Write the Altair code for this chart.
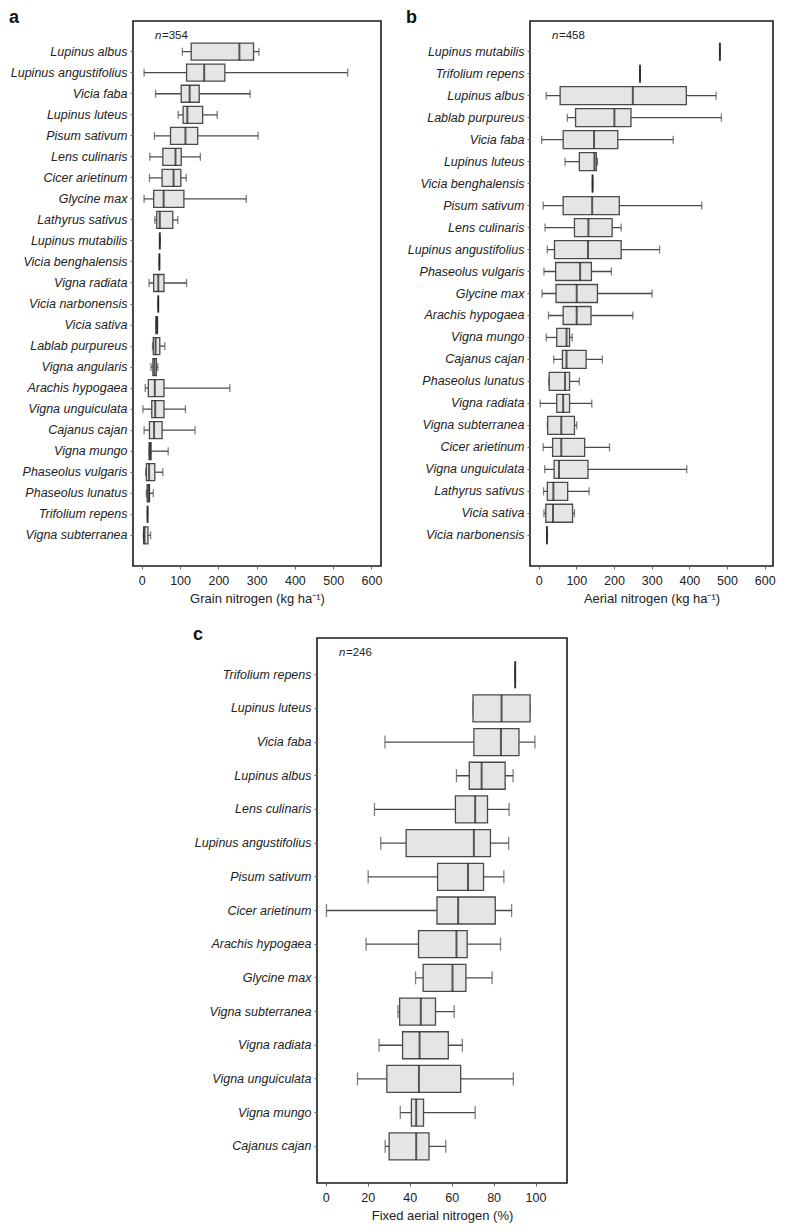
import altair as alt
import pandas as pd

FONT = "Liberation Sans"

# ---------------- Panel a: Grain nitrogen ----------------
a_species = ["Lupinus albus", "Lupinus angustifolius", "Vicia faba", "Lupinus luteus",
             "Pisum sativum", "Lens culinaris", "Cicer arietinum", "Glycine max",
             "Lathyrus sativus", "Lupinus mutabilis", "Vicia benghalensis", "Vigna radiata",
             "Vicia narbonensis", "Vicia sativa", "Lablab purpureus", "Vigna angularis",
             "Arachis hypogaea", "Vigna unguiculata", "Cajanus cajan", "Vigna mungo",
             "Phaseolus vulgaris", "Phaseolus lunatus", "Trifolium repens", "Vigna subterranea"]
a_min = [106, 6, 36, 95, 33, 21, 20, 6, 34, 47, 46, 19, 43, 37, 28, 24, 9, 3, 6, 19, 10, 12, 15, 4]
a_q1 = [129, 117, 103, 108, 75, 55, 53, 31, 39, 47, 46, 31, 43, 37, 30, 29, 17, 26, 20, 19, 12, 14, 15, 5]
a_med = [255, 163, 125, 119, 114, 88, 83, 57, 47, 47, 46, 43, 43, 39, 36, 33, 34, 35, 32, 22, 19, 18, 15, 7]
a_q3 = [292, 217, 150, 159, 146, 103, 102, 110, 81, 47, 46, 58, 43, 41, 47, 38, 58, 58, 53, 24, 34, 20, 15, 16]
a_max = [306, 538, 283, 197, 304, 153, 116, 273, 94, 47, 46, 117, 43, 41, 60, 42, 230, 114, 139, 69, 55, 30, 15, 23]

# ---------------- Panel b: Aerial nitrogen ----------------
b_species = ["Lupinus mutabilis", "Trifolium repens", "Lupinus albus", "Lablab purpureus",
             "Vicia faba", "Lupinus luteus", "Vicia benghalensis", "Pisum sativum",
             "Lens culinaris", "Lupinus angustifolius", "Phaseolus vulgaris", "Glycine max",
             "Arachis hypogaea", "Vigna mungo", "Cajanus cajan", "Phaseolus lunatus",
             "Vigna radiata", "Vigna subterranea", "Cicer arietinum", "Vigna unguiculata",
             "Lathyrus sativus", "Vicia sativa", "Vicia narbonensis"]
b_min = [481, 269, 20, 76, 8, 70, 143, 12, 17, 23, 14, 9, 26, 20, 40, 27, 4, 23, 12, 16, 13, 14, 22]
b_q1 = [481, 269, 57, 98, 65, 108, 143, 65, 95, 42, 45, 46, 65, 48, 63, 28, 48, 24, 37, 41, 23, 19, 22]
b_med = [481, 269, 250, 201, 147, 148, 143, 142, 132, 131, 110, 101, 101, 74, 74, 70, 65, 60, 60, 54, 39, 38, 22]
b_q3 = [481, 269, 392, 245, 210, 153, 143, 214, 195, 219, 140, 156, 139, 82, 126, 82, 82, 95, 122, 131, 77, 90, 22]
b_max = [481, 269, 471, 485, 357, 156, 143, 433, 219, 321, 193, 301, 250, 89, 169, 108, 141, 101, 188, 393, 134, 95, 22]

# ---------------- Panel c: Fixed aerial nitrogen ----------------
c_species = ["Trifolium repens", "Lupinus luteus", "Vicia faba", "Lupinus albus",
             "Lens culinaris", "Lupinus angustifolius", "Pisum sativum", "Cicer arietinum",
             "Arachis hypogaea", "Glycine max", "Vigna subterranea", "Vigna radiata",
             "Vigna unguiculata", "Vigna mungo", "Cajanus cajan"]
c_min = [90.3, 70.2, 28.2, 62.3, 23.2, 26.2, 20.2, 0.3, 19.2, 42.8, 34.4, 25.4, 15.1, 35.5, 28.3]
c_q1 = [90.3, 70.2, 70.6, 68.4, 61.8, 38.3, 53.3, 53.0, 44.2, 46.4, 35.2, 36.6, 29.1, 40.8, 30.2]
c_med = [90.3, 83.8, 83.5, 74.3, 71.2, 70.6, 67.8, 63.1, 62.3, 60.4, 45.3, 44.7, 44.4, 43.1, 43.1]
c_q3 = [90.3, 97.4, 92.1, 85.5, 77.1, 78.5, 75.2, 80.8, 67.4, 66.8, 52.3, 58.4, 64.3, 46.6, 49.2]
c_max = [90.3, 97.4, 99.7, 89.3, 87.4, 87.2, 84.9, 88.6, 83.3, 79.3, 61.2, 65.1, 89.4, 71.2, 57.2]

BOX_FILL = "#e5e5e5"
BOX_STROKE = "#4a4a4a"
LINE = "#4a4a4a"


def panel(species, mn, q1, med, q3, mx, domain, ticks, xtitle, letter, n,
          width, height, pad_outer, box, cap):
    df = pd.DataFrame({"species": species, "mn": mn, "q1": q1, "med": med,
                       "q3": q3, "mx": mx})
    y = alt.Y("species:N", sort=species,
              scale=alt.Scale(paddingInner=0, paddingOuter=pad_outer),
              axis=alt.Axis(title=None, labelFontStyle="italic", labelFont=FONT,
                            labelFontSize=12.5, labelColor="#222", tickSize=3,
                            tickColor="#666", labelPadding=3, domain=False))
    xscale = alt.Scale(domain=domain, nice=False, zero=False)
    xaxis = alt.Axis(values=ticks, title=xtitle, titleFont=FONT, titleFontSize=13,
                     titleFontWeight="normal", titleColor="#222", labelFont=FONT,
                     labelFontSize=12.5, labelColor="#222", tickSize=3, tickColor="#666",
                     labelPadding=5, titlePadding=6, domain=False, grid=False)
    base = alt.Chart(df)
    whisker = base.mark_rule(color=LINE, strokeWidth=1.3).encode(
        x=alt.X("mn:Q", scale=xscale, axis=xaxis), x2="mx:Q", y=y)
    cap_lo = base.mark_tick(color=LINE, size=cap, thickness=1.3).encode(
        x=alt.X("mn:Q", scale=xscale), y=y)
    cap_hi = base.mark_tick(color=LINE, size=cap, thickness=1.3).encode(
        x=alt.X("mx:Q", scale=xscale), y=y)
    boxes = base.mark_bar(size=box, fill=BOX_FILL, stroke=BOX_STROKE, strokeWidth=1.3).encode(
        x=alt.X("q1:Q", scale=xscale), x2="q3:Q", y=y)
    median = base.mark_tick(color="#1a1a1a", size=box, thickness=2).encode(
        x=alt.X("med:Q", scale=xscale), y=y)
    lab = alt.Chart(pd.DataFrame({"t": [letter]})).mark_text(
        align="left", baseline="alphabetic", font=FONT, fontSize=18,
        fontWeight="bold", color="#111").encode(
        text="t:N", x=alt.value(-124), y=alt.value(2))
    n_it = alt.Chart(pd.DataFrame({"t": ["n"]})).mark_text(
        align="left", baseline="alphabetic", font=FONT, fontSize=11.5,
        fontStyle="italic", color="#222").encode(
        text="t:N", x=alt.value(22), y=alt.value(18))
    n_val = alt.Chart(pd.DataFrame({"t": ["=" + str(n)]})).mark_text(
        align="left", baseline="alphabetic", font=FONT, fontSize=11.5,
        color="#222").encode(
        text="t:N", x=alt.value(29), y=alt.value(18))
    return alt.layer(whisker, cap_lo, cap_hi, boxes, median, lab, n_it, n_val).properties(
        width=width, height=height)


H = 545
pa = panel(a_species, a_min, a_q1, a_med, a_q3, a_max, [-23, 625],
           [0, 100, 200, 300, 400, 500, 600], "Grain nitrogen (kg ha\u207b\u00b9)",
           "a", 354, 248, H, 0.96, 17, 8)
pb = panel(b_species, b_min, b_q1, b_med, b_q3, b_max, [-23, 622],
           [0, 100, 200, 300, 400, 500, 600], "Aerial nitrogen (kg ha\u207b\u00b9)",
           "b", 458, 243, H, 0.9, 18, 8)
pc = panel(c_species, c_min, c_q1, c_med, c_q3, c_max, [-4.2, 115],
           [0, 20, 40, 60, 80, 100], "Fixed aerial nitrogen (%)",
           "c", 246, 250, H, 0.59, 27, 13)

spacer = alt.Chart(pd.DataFrame({"v": [0]})).mark_point(opacity=0).encode(
    x=alt.value(0), y=alt.value(0)).properties(
    width=59, height=10, view=alt.ViewBackground(strokeOpacity=0))

top = alt.hconcat(pa, pb, spacing=22)
bottom = alt.hconcat(spacer, pc, spacing=0)

chart = alt.vconcat(top, bottom, spacing=18).properties(
    padding=0, background="white").configure_view(
    stroke="#1a1a1a", strokeWidth=1.6)

chart.save("out.html", embed_options={"renderer": "svg", "actions": False})
